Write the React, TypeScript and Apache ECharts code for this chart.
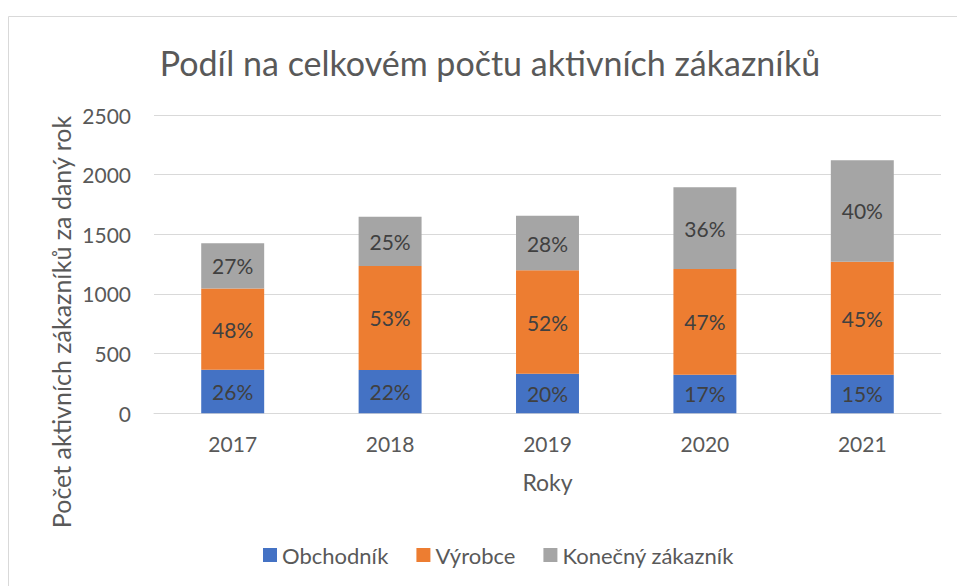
import React, { useEffect, useRef } from "react";
import * as echarts from "echarts";

const years = ["2017", "2018", "2019", "2020", "2021"];
const obchodnik = [365, 363, 332, 324, 324];
const vyrobce = [680, 872, 866, 885, 947];
const konecny = [380, 413, 458, 685, 849];
const obchodnikPct = ["26%", "22%", "20%", "17%", "15%"];
const vyrobcePct = ["48%", "53%", "52%", "47%", "45%"];
const konecnyPct = ["27%", "25%", "28%", "36%", "40%"];
const seriesNames = ["Obchodník", "Výrobce", "Konečný zákazník"];
const colors = ["#4472C4", "#ED7D31", "#A5A5A5"];
const yTicks = { min: 0, max: 2500, interval: 500 };

const FONT = "Lato";

export default function App() {
  const ref = useRef<HTMLDivElement>(null);
  useEffect(() => {
    if (!ref.current) return;
    const chart = echarts.init(ref.current, null, { renderer: "svg" });
    const mkSeries = (name: string, data: number[], pct: string[], color: string) => ({
      name,
      type: "bar",
      stack: "total",
      data,
      barWidth: "40%",
      itemStyle: { color },
      label: {
        show: true,
        position: "inside",
        formatter: (p: any) => pct[p.dataIndex],
        color: "#404040",
        fontFamily: FONT,
        fontSize: 21,
      },
    });
    chart.setOption({
      animation: false,
      backgroundColor: "#ffffff",
      color: colors,
      graphic: [
        {
          type: "rect",
          shape: { x: 8.5, y: 16.5, width: 1000, height: 700 },
          style: { fill: "none", stroke: "#d9d9d9", lineWidth: 1 },
          silent: true,
        },
        {
          type: "text",
          x: 490,
          y: 62,
          style: {
            text: "Podíl na celkovém počtu aktivních zákazníků",
            fontFamily: FONT,
            fontSize: 34,
            fill: "#595959",
            textAlign: "center",
            textVerticalAlign: "middle",
          },
        },
        {
          type: "text",
          x: 61,
          y: 322,
          rotation: Math.PI / 2,
          style: {
            text: "Počet aktivních zákazníků za daný rok",
            fontFamily: FONT,
            fontSize: 25,
            fill: "#595959",
            textAlign: "center",
            textVerticalAlign: "middle",
          },
        },
      ],
      grid: { left: 154, right: 16, top: 115, bottom: 172.7, containLabel: false },
      legend: {
        data: seriesNames,
        left: 258,
        top: 539,
        itemWidth: 14,
        itemHeight: 14,
        itemGap: 28,
        icon: "rect",
        textStyle: { fontFamily: FONT, fontSize: 22, color: "#595959", padding: [0, 0, 0, 0] },
      },
      xAxis: {
        type: "category",
        data: years,
        axisLine: { lineStyle: { color: "#d9d9d9", width: 1 } },
        axisTick: { show: false },
        axisLabel: { fontFamily: FONT, fontSize: 21, color: "#595959", margin: 20 },
        name: "Roky",
        nameLocation: "middle",
        nameGap: 57,
        nameTextStyle: { fontFamily: FONT, fontSize: 23, color: "#595959" },
      },
      yAxis: {
        type: "value",
        min: yTicks.min,
        max: yTicks.max,
        interval: yTicks.interval,
        axisLine: { show: false },
        axisTick: { show: false },
        splitLine: { lineStyle: { color: "#d9d9d9", width: 1 } },
        axisLabel: {
          fontFamily: FONT,
          fontSize: 21,
          color: "#595959",
          margin: 23,
          formatter: (v: number) => String(v),
        },
      },
      series: [
        mkSeries(seriesNames[0], obchodnik, obchodnikPct, colors[0]),
        mkSeries(seriesNames[1], vyrobce, vyrobcePct, colors[1]),
        mkSeries(seriesNames[2], konecny, konecnyPct, colors[2]),
      ],
    });
    return () => chart.dispose();
  }, []);
  return (
    <div
      ref={ref}
      style={{ position: "fixed", left: 0, top: 0, width: 957, height: 586, background: "#fff" }}
    />
  );
}
